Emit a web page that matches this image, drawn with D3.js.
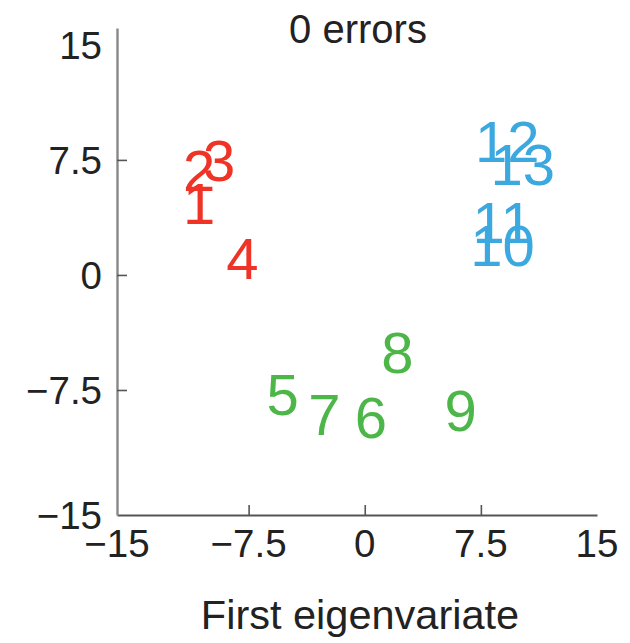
<!DOCTYPE html>
<html>
<head>
<meta charset="utf-8">
<script src="https://cdn.jsdelivr.net/npm/d3@7"></script>
<style>
  html, body { margin: 0; padding: 0; background: #fff; }
  svg { display: block; }
  text { font-family: "Liberation Sans", Arial, Helvetica, sans-serif; }
</style>
</head>
<body>
<script>
// Subject labels and their positions on the first two eigenvariates
const labels = ["1","2","3","4","5","6","7","8","9","10","11","12","13"];
const eig1   = [-10.7, -10.7, -9.4, -7.9, -5.3, 0.4, -2.6, 2.1, 6.2, 8.9, 8.9, 9.2, 10.2];
const eig2   = [4.7, 6.85, 7.5, 1.1, -7.8, -9.3, -9.1, -5.0, -8.8, 1.95, 3.45, 8.7, 7.2];
const groups = ["A","A","A","A","B","B","B","B","B","C","C","C","C"];

const groupNames  = ["A", "B", "C"];
const groupColors = ["#ef3326", "#4cb748", "#3ba8e0"];

const tickValues = [-15, -7.5, 0, 7.5, 15];
const tickLabels = ["\u221215", "\u22127.5", "0", "7.5", "15"];
const innerTicks = [-7.5, 0, 7.5];

const title = "0 errors";
const xTitle = "First eigenvariate";

const W = 630, H = 643;
const svg = d3.select("body").append("svg").attr("width", W).attr("height", H);
svg.append("rect").attr("width", W).attr("height", H).attr("fill", "#fff");

const x = d3.scaleLinear().domain([-16, 15]).range([117, 597]);
const y = d3.scaleLinear().domain([-15.65, 16.1]).range([515, 28]);
const color = d3.scaleOrdinal().domain(groupNames).range(groupColors);

// Label positions: the lowest tick label sits at the shared corner of the axes
const xLabelPos = v => v === d3.min(tickValues) ? x.range()[0] : x(v);
const yLabelPos = v => v === d3.min(tickValues) ? y.range()[0] : y(v);

// Axis spines with inward ticks
const gx = svg.append("g").attr("transform", `translate(0,${y.range()[0]})`)
  .call(d3.axisBottom(x).tickValues(innerTicks).tickSizeInner(-10).tickSizeOuter(0).tickFormat(""));
gx.select(".domain").attr("stroke", "#555").attr("stroke-width", 2);
gx.selectAll(".tick line").attr("stroke", "#555").attr("stroke-width", 1.6);

const gy = svg.append("g").attr("transform", `translate(${x.range()[0]},0)`)
  .call(d3.axisLeft(y).tickValues(innerTicks).tickSizeInner(-10).tickSizeOuter(0).tickFormat(""));
gy.select(".domain").attr("stroke", "#888").attr("stroke-width", 2.4);
gy.selectAll(".tick line").attr("stroke", "#555").attr("stroke-width", 1.6);

// Tick labels
svg.append("g").selectAll("text").data(tickValues).join("text")
  .attr("x", d => xLabelPos(d))
  .attr("y", 557)
  .attr("text-anchor", "middle")
  .attr("font-size", 38.5)
  .attr("fill", "#222")
  .text((d, i) => tickLabels[i]);

svg.append("g").selectAll("text").data(tickValues).join("text")
  .attr("x", 102)
  .attr("y", d => yLabelPos(d))
  .attr("dy", "0.36em")
  .attr("text-anchor", "end")
  .attr("font-size", 38.5)
  .attr("fill", "#222")
  .text((d, i) => tickLabels[i]);

// Title and axis label
svg.append("text").attr("x", 358).attr("y", 43)
  .attr("text-anchor", "middle").attr("font-size", 40).attr("fill", "#222").text(title);
svg.append("text").attr("x", 360).attr("y", 629)
  .attr("text-anchor", "middle").attr("font-size", 41.5).attr("fill", "#222").text(xTitle);

// Subject numbers drawn at their eigenvariate coordinates
svg.append("g").selectAll("text").data(labels).join("text")
  .attr("x", (d, i) => x(eig1[i]))
  .attr("y", (d, i) => y(eig2[i]))
  .attr("dy", "0.36em")
  .attr("text-anchor", "middle")
  .attr("font-size", 58)
  .attr("fill", (d, i) => color(groups[i]))
  .text(d => d);
</script>
</body>
</html>
